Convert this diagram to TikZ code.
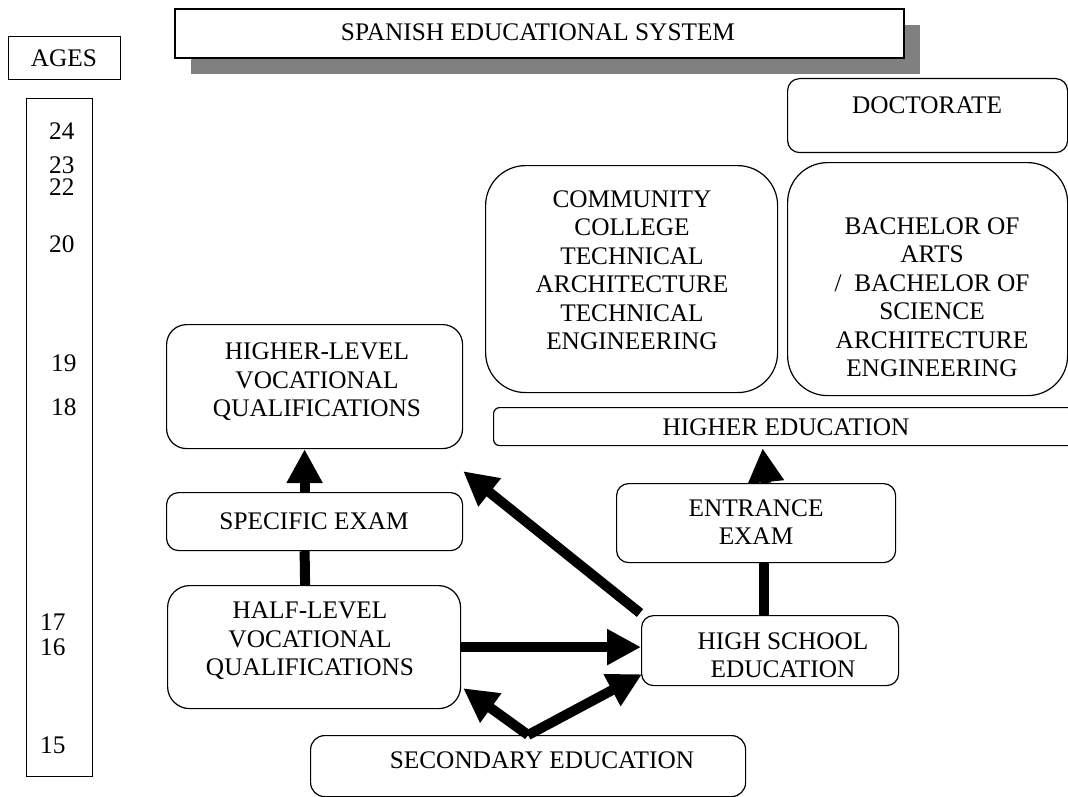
\documentclass[tikz,border=0pt]{standalone}
\usepackage{fontspec}
\setmainfont{Liberation Serif}
\usetikzlibrary{arrows.meta,calc,shadows}
\begin{document}
\begin{tikzpicture}[x=1pt,y=-1pt,
  box/.style={draw, line width=1.2pt, anchor=north west, inner sep=0pt, fill=white},
  txt/.style={align=center, font=\fontsize{25.3}{28.5}\selectfont, inner sep=0pt},
  arr/.style={line width=10pt, -{Triangle[length=34pt,width=34pt]}},
  shaft/.style={line width=10pt}]
\useasboundingbox (0,0) rectangle (1068,797);

% title
\node[box, line width=1.6pt, minimum width=729pt, minimum height=49pt,
      drop shadow={shadow xshift=16pt, shadow yshift=-16pt, fill=black!50, draw=none, opacity=1}]
      (title) at (174,8) {};
\node[txt] (titletxt) at (538,32) {SPANISH EDUCATIONAL SYSTEM};

% ages
\node[box, minimum width=112pt, minimum height=43pt] (agesbox) at (8,36) {};
\node[txt] (agestxt) at (64,58) {AGES};
\node[box, minimum width=66pt, minimum height=678pt] (col) at (26,98) {};
\node[txt, anchor=west] (a24) at (49,131) {24};
\node[txt, anchor=west] (a23) at (49,165) {23};
\node[txt, anchor=west] (a22) at (49,187) {22};
\node[txt, anchor=west] (a20) at (49,244) {20};
\node[txt, anchor=west] (a19) at (51,363) {19};
\node[txt, anchor=west] (a18) at (51,407) {18};
\node[txt, anchor=west] (a17) at (40,622) {17};
\node[txt, anchor=west] (a16) at (40,647) {16};
\node[txt, anchor=west] (a15) at (40,745) {15};

% boxes
\node[box, rounded corners=12pt, minimum width=280pt, minimum height=74pt] (doc) at (787,78) {};
\node[txt] (doctxt) at (927,105) {DOCTORATE};
\node[box, rounded corners=40pt, minimum width=280pt, minimum height=233pt] (bach) at (787,162) {};
\node[txt] (bachtxt) at (932,297) {BACHELOR OF\\ARTS\\/\ \ BACHELOR OF\\SCIENCE\\ARCHITECTURE\\ENGINEERING};
\node[box, rounded corners=40pt, minimum width=292pt, minimum height=227pt] (comm) at (485,165) {};
\node[txt] (commtxt) at (632,270) {COMMUNITY\\COLLEGE\\TECHNICAL\\ARCHITECTURE\\TECHNICAL\\ENGINEERING};
\node[box, rounded corners=6pt, minimum width=582pt, minimum height=38pt] (he) at (493,407) {};
\node[txt] (hetxt) at (786,427) {HIGHER EDUCATION};
\node[box, rounded corners=20pt, minimum width=296pt, minimum height=124pt] (hl) at (166,324) {};
\node[txt] (hltxt) at (317,382) {HIGHER-LEVEL\\VOCATIONAL\\QUALIFICATIONS};
\node[box, rounded corners=12pt, minimum width=296pt, minimum height=58pt] (spec) at (166,492) {};
\node[txt] (spectxt) at (314,521) {SPECIFIC EXAM};
\node[box, rounded corners=22pt, minimum width=293pt, minimum height=123pt] (half) at (167,585) {};
\node[txt] (halftxt) at (310,641) {HALF-LEVEL\\VOCATIONAL\\QUALIFICATIONS};
\node[box, rounded corners=12pt, minimum width=279pt, minimum height=79pt] (ent) at (616,483) {};
\node[txt] (enttxt) at (756,522) {ENTRANCE\\EXAM};
\node[box, rounded corners=12pt, minimum width=257pt, minimum height=70pt] (hs) at (641,615) {};
\node[txt] (hstxt) at (783,655) {HIGH SCHOOL\\EDUCATION};
\node[box, rounded corners=14pt, minimum width=435pt, minimum height=61pt] (sec) at (310,735) {};
\node[txt] (sectxt) at (542,760) {SECONDARY EDUCATION};

% connectors
\draw[arr] ($(hs.north west)+(-1,-2)$) -- ($(hl.south east)+(0,22)$);
\draw[arr] (half.east) -- (half.east -| hs.west);
\draw[arr] (sec.north) -- ($(hs.south west)+(1,-12)$);
\draw[arr] (sec.north) -- ($(half.south east)+(2,-21)$);
\draw[arr] ($(spec.north)+(-10,0)$) -- ($(hl.south)+(-10,0)$);
\draw[shaft] ($(half.north)+(-9,0)$) -- ($(spec.south)+(-10,0)$);
\draw[shaft] ($(ent.south)+(7.5,0)$) coordinate (e1) -- (e1 |- hs.north);
\draw[arr] ($(ent.north)+(10,0)$) -- ($(he.south)+(-22,2)$);
\end{tikzpicture}
\end{document}
